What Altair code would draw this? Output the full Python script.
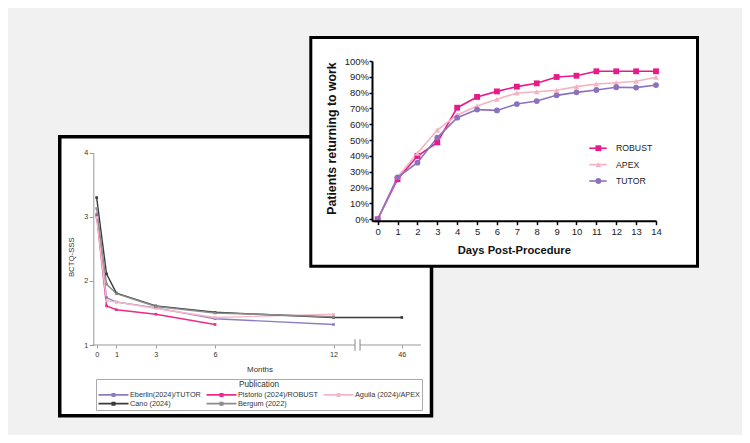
import altair as alt
import pandas as pd

FONT = "Liberation Sans"

# ---- left panel: BCTQ-SSS vs months ----
pubs = ["Eberlin(2024)/TUTOR", "Pistorio (2024)/ROBUST", "Aguila (2024)/APEX",
        "Cano (2024)", "Bergum (2022)"]
pub_colors = ["#8e7cc3", "#ee2a8a", "#f5b7c6", "#3a3a3a", "#8c8c8c"]

eberlin_m = [0, 0.5, 1, 3, 6, 12]
eberlin_s = [3.04, 1.74, 1.67, 1.58, 1.41, 1.32]
pistorio_m = [0, 0.5, 1, 3, 6]
pistorio_s = [3.01, 1.61, 1.55, 1.48, 1.32]
aguila_m = [0, 0.5, 1, 3, 6, 12]
aguila_s = [2.99, 1.69, 1.67, 1.57, 1.43, 1.48]
cano_m = [0, 0.5, 1, 3, 6, 12, 46]
cano_s = [3.30, 2.11, 1.81, 1.61, 1.51, 1.43, 1.43]
bergum_m = [0, 0.5, 1, 3, 6, 12]
bergum_s = [3.13, 1.95, 1.80, 1.60, 1.50, 1.44]

month_ticks = [0, 1, 3, 6, 12, 46]
score_ticks = [1, 2, 3, 4]

# ---- right panel: return to work ----
days = list(range(15))
trials = ["ROBUST", "APEX", "TUTOR"]
trial_colors = ["#e8198b", "#f5b3c2", "#8c72bd"]
trial_shapes = ["square", "triangle-up", "circle"]
robust = [0, 25.3, 40.0, 48.6, 70.5, 77.3, 80.8, 83.8, 85.9, 89.9, 90.7, 93.5, 93.5, 93.5, 93.5]
apex = [0, 26.7, 41.7, 56.4, 65.9, 71.6, 75.8, 79.8, 80.6, 81.5, 83.8, 85.5, 86.3, 87.2, 89.7]
tutor = [0, 26.5, 35.8, 51.6, 64.2, 69.3, 68.8, 72.8, 74.7, 78.3, 80.2, 81.7, 83.4, 83.2, 84.8]

left_rows = []
for name, ms, ss in zip(pubs, [eberlin_m, pistorio_m, aguila_m, cano_m, bergum_m],
                        [eberlin_s, pistorio_s, aguila_s, cano_s, bergum_s]):
    for m, s in zip(ms, ss):
        left_rows.append({"pub": name, "month": m, "score": s})
left_df = pd.DataFrame(left_rows)

right_rows = []
for name, vals in zip(trials, [robust, apex, tutor]):
    for d, v in zip(days, vals):
        right_rows.append({"series": name, "day": d, "pct": v})
right_df = pd.DataFrame(right_rows)

one = pd.DataFrame({"k": [0]})

# ---- scales (pixel ranges place the two panels on one canvas) ----
xl = alt.Scale(domain=[-0.2, 12, 46, 55.5], range=[84.7, 325.5, 393.8, 413], nice=False, zero=False)
yl = alt.Scale(domain=[1, 4], range=[337, 144.7], nice=False, zero=False)
cl = alt.Scale(domain=pubs, range=pub_colors)

xr = alt.Scale(domain=[-0.3, 14], range=[363.7, 648], nice=False, zero=False)
yr = alt.Scale(domain=[-1, 100], range=[212.9, 53], nice=False, zero=False)
cr = alt.Scale(domain=trials, range=trial_colors)
sr = alt.Scale(domain=trials, range=trial_shapes)

ax_xl = alt.Axis(values=month_ticks, title="Months", orient="bottom", offset=-90, domain=False,
                 tickSize=3, tickColor="#999", labelFontSize=7.2, labelColor="#333", labelPadding=2,
                 labelFont=FONT, titleFont=FONT, titleFontSize=7.9, titleFontWeight="normal",
                 titleColor="#333", titleY=24, titleX=251.5, titleBaseline="middle",
                 grid=False, zindex=1, labelFlush=False)
ax_yl = alt.Axis(values=score_ticks, title="BCTQ-SSS", orient="left", offset=-85.3,
                 domainColor="#999", domainWidth=1, tickColor="#999", tickSize=4,
                 labelFontSize=7.2, labelColor="#333", labelPadding=1.5, labelFont=FONT,
                 titleFont=FONT, titleFontSize=7.8, titleFontWeight="normal", titleColor="#333",
                 titleX=-21.6, titleY=248.7, titleBaseline="middle", titleAlign="center",
                 grid=False, zindex=1)

ax_xr = alt.Axis(values=days, title="Days Post-Procedure", orient="bottom", offset=-214.3,
                 domainColor="black", domainWidth=2, tickColor="black", tickWidth=1.5, tickSize=4,
                 labelFontSize=9.5, labelColor="#222", labelPadding=2, labelFont=FONT,
                 titleFont=FONT, titleFontSize=11.2, titleFontWeight="bold", titleColor="#111",
                 titleY=30, titleBaseline="middle", grid=False, zindex=1,
                 labelFlush=False, labelOverlap=False)
ax_yr = alt.Axis(values=list(range(0, 101, 10)), labelExpr="datum.value + '%'",
                 title="Patients returning to work", orient="left", offset=-364,
                 domainColor="black", domainWidth=2, tickColor="black", tickWidth=1.5, tickSize=3,
                 labelFontSize=9.5, labelColor="#222", labelPadding=0.5, labelFont=FONT,
                 titleFont=FONT, titleFontSize=12.3, titleFontWeight="bold", titleColor="#111",
                 titleX=-40.3, titleY=130, titleBaseline="middle", titleAlign="center",
                 grid=False, zindex=1, labelFlush=False, labelOverlap=False)

# ---- panel frames ----
frame_l = alt.Chart(one).mark_rect(fill="white", stroke="black", strokeWidth=3.5).encode(
    x=alt.value(51.75), x2=alt.value(423.5), y=alt.value(128.75), y2=alt.value(407.75))
frame_r = alt.Chart(one).mark_rect(fill="white", stroke="black", strokeWidth=3).encode(
    x=alt.value(302.8), x2=alt.value(689.5), y=alt.value(29.5), y2=alt.value(258.2))

# ---- left panel content ----
pub_legend = alt.Legend(
    title="Publication", orient="none", legendX=88, legendY=371, columns=3,
    direction="horizontal", strokeColor="#aaa", padding=2, fillColor="white",
    titleAnchor="middle", titleFont=FONT, titleFontSize=8.2, titleFontWeight="normal",
    titleColor="#333", titlePadding=1, labelFont=FONT, labelFontSize=7.3, labelColor="#333",
    symbolType="M-4.1,-0.06H4.1V0.06H-4.1Z M-0.4,-0.4H0.4V0.4H-0.4Z",
    symbolSize=49, symbolStrokeWidth=1.3, symbolOffset=11, labelOffset=12,
    rowPadding=0, columnPadding=3, zindex=1)

left_lines = alt.Chart(left_df).mark_line(strokeWidth=1.4).encode(
    x=alt.X("month:Q", scale=xl, axis=ax_xl),
    y=alt.Y("score:Q", scale=yl, axis=ax_yl),
    color=alt.Color("pub:N", scale=cl, legend=pub_legend),
)
left_pts = alt.Chart(left_df).mark_point(shape="square", filled=True, size=7, opacity=1).encode(
    x=alt.X("month:Q", scale=xl, axis=None),
    y=alt.Y("score:Q", scale=yl, axis=None),
    color=alt.Color("pub:N", scale=cl, legend=None),
)

# broken x axis line with break marks
axis_segs = pd.DataFrame({"a": [-0.2, 25.2], "b": [22.7, 55.5], "s": [1, 1]})
axis_line = alt.Chart(axis_segs).mark_rule(color="#999", strokeWidth=1).encode(
    x=alt.X("a:Q", scale=xl, axis=None), x2="b:Q",
    y=alt.Y("s:Q", scale=yl, axis=None))
breaks = pd.DataFrame({"m": [22.7, 25.2], "lo": [0.91, 0.91], "hi": [1.09, 1.09]})
break_marks = alt.Chart(breaks).mark_rule(color="#888", strokeWidth=1).encode(
    x=alt.X("m:Q", scale=xl, axis=None),
    y=alt.Y("lo:Q", scale=yl, axis=None), y2="hi:Q")

# ---- right panel content ----
right_lines = alt.Chart(right_df).mark_line(strokeWidth=1.6).encode(
    x=alt.X("day:Q", scale=xr, axis=ax_xr),
    y=alt.Y("pct:Q", scale=yr, axis=ax_yr),
    color=alt.Color("series:N", scale=cr, legend=None),
)
right_pts = alt.Chart(right_df).mark_point(filled=True, size=34, opacity=1).encode(
    x=alt.X("day:Q", scale=xr, axis=None),
    y=alt.Y("pct:Q", scale=yr, axis=None),
    color=alt.Color("series:N", scale=cr, legend=None),
    shape=alt.Shape("series:N", scale=sr, legend=None),
)

# in-plot key, placed in the panel's data units
leg = pd.DataFrame({"series": trials})
leg["pct"] = [44.9 - 10.35 * i for i in range(len(trials))]
leg["x0"] = 10.64
leg["x1"] = 11.52
leg["xm"] = 11.1
leg["xt"] = 11.99
key_lines = alt.Chart(leg).mark_rule(strokeWidth=1.6).encode(
    x=alt.X("x0:Q", scale=xr, axis=None), x2="x1:Q",
    y=alt.Y("pct:Q", scale=yr, axis=None),
    color=alt.Color("series:N", scale=cr, legend=None))
key_pts = alt.Chart(leg).mark_point(filled=True, size=34, opacity=1).encode(
    x=alt.X("xm:Q", scale=xr, axis=None),
    y=alt.Y("pct:Q", scale=yr, axis=None),
    color=alt.Color("series:N", scale=cr, legend=None),
    shape=alt.Shape("series:N", scale=sr, legend=None))
key_txt = alt.Chart(leg).mark_text(align="left", baseline="middle", font=FONT,
                                   fontSize=8.7, color="#222").encode(
    x=alt.X("xt:Q", scale=xr, axis=None),
    y=alt.Y("pct:Q", scale=yr, axis=None),
    text="series:N")

chart = alt.layer(
    frame_l, axis_line, break_marks, left_lines, left_pts,
    frame_r, right_lines, right_pts, key_lines, key_pts, key_txt,
).resolve_scale(
    x="independent", y="independent", color="independent", shape="independent"
).resolve_axis(
    x="independent", y="independent"
).resolve_legend(
    color="independent", shape="independent"
).properties(
    width=734, height=427, padding=0,
    autosize=alt.AutoSizeParams(type="none"),
    background="#f1f1f1",
).configure_view(stroke=None)

chart.save("out.html", embed_options={"renderer": "svg", "actions": False})
